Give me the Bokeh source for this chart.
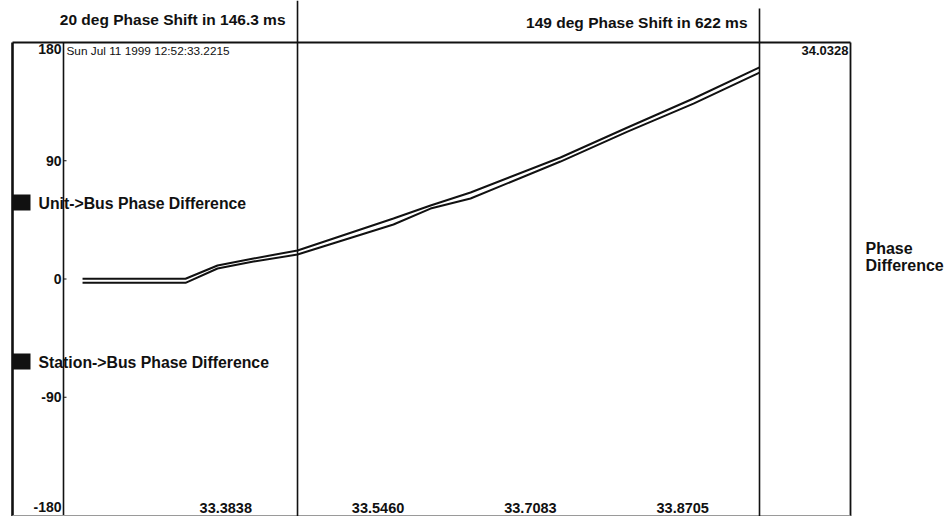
from bokeh.plotting import figure
from bokeh.models import Range1d
from bokeh.core.properties import value
from bokeh.embed import file_html
from bokeh.resources import INLINE

# ---- data -------------------------------------------------------------
START_STAMP = "Sun Jul 11 1999 12:52:33.2215"
T_START = 33.2215          # seconds at the start of the trace window
T_END = 34.0328            # seconds at the end of the trace window
Y_MIN, Y_MAX = -180, 180   # phase difference, degrees

Y_TICKS = [180, 90, 0, -90, -180]
X_TICKS = [33.3838, 33.5460, 33.7083, 33.8705]

CURSOR_TIMES = [33.4602, 33.9523]
CURSOR_TITLES = ["20 deg Phase Shift in 146.3 ms", "149 deg Phase Shift in 622 ms"]

time_s = [33.2312, 33.3409, 33.3750, 33.4133, 33.4602, 33.5624,
          33.6019, 33.6445, 33.7403, 33.8117, 33.8820, 33.9523]
unit_bus = [0.2, 0.2, 10.3, 15.6, 21.7, 46.0,
            55.9, 65.8, 92.5, 115.3, 137.4, 161.0]
station_bus = [-2.9, -2.9, 8.0, 13.3, 18.6, 41.5,
               53.6, 61.3, 89.4, 112.2, 133.5, 157.1]

SERIES_NAMES = ["Unit->Bus Phase Difference", "Station->Bus Phase Difference"]
AXIS_NAME = ["Phase", "Difference"]

# ---- page geometry (pixels) ------------------------------------------
W, H = 945, 516
TOP, BOTTOM = 42, 515          # y = 180 and y = -180
AXIS_PX, FRAME_R_PX = 63, 850  # left axis line and right frame line
T_MID_PX, PX_PER_S = 453.75, 938.8
T_MID = (X_TICKS[0] + X_TICKS[-1]) / 2
sy = (BOTTOM - TOP) / (Y_MAX - Y_MIN)


def X(px):
    return T_MID + (px - T_MID_PX) / PX_PER_S


def Y(py):
    return Y_MAX - (py - TOP) / sy


FONT = value("Liberation Sans")
INK = "#111111"

p = figure(width=W, height=H, x_range=Range1d(X(0), X(W)), y_range=Range1d(Y(H), Y(0)),
           x_axis_location=None, y_axis_location=None, toolbar_location=None,
           output_backend="svg", min_border=0)
p.grid.visible = False
p.outline_line_color = None
p.background_fill_color = "white"
p.border_fill_color = "white"

# ---- outer frame and trace window ------------------------------------
p.segment(x0=[X(12), X(12), X(FRAME_R_PX), X(AXIS_PX), X(12)],
          y0=[Y(H), Y_MAX, Y_MAX, Y_MAX, Y(BOTTOM)],
          x1=[X(12), X(FRAME_R_PX), X(FRAME_R_PX), X(AXIS_PX), X(FRAME_R_PX)],
          y1=[Y_MAX, Y_MAX, Y(H), Y(H), Y(BOTTOM)],
          line_color=[INK, INK, INK, INK, "#9a9a9a"],
          line_width=[2.6, 2.0, 1.8, 1.6, 1.0])

# y ticks pointing into the trace window
mid_ticks = [t for t in Y_TICKS if Y_MIN < t < Y_MAX]
p.segment(x0=[X(AXIS_PX)] * len(mid_ticks), y0=mid_ticks,
          x1=[X(AXIS_PX + 3)] * len(mid_ticks), y1=mid_ticks, line_color=INK, line_width=1.2)

# y tick labels
for t in Y_TICKS:
    if t == Y_MAX:
        yy, base = Y(TOP + 1), "top"
    elif t == Y_MIN:
        yy, base = Y(BOTTOM - 4), "bottom"
    else:
        yy, base = t, "middle"
    p.text(x=[X(AXIS_PX - 2)], y=[yy], text=[str(t)], text_font=FONT, text_font_style="bold",
           text_font_size="14px", text_align="right", text_baseline=base, text_color=INK)

# x tick labels along the bottom
p.text(x=X_TICKS, y=[Y(BOTTOM - 3)] * len(X_TICKS), text=["%.4f" % t for t in X_TICKS],
       text_font=FONT, text_font_style="bold", text_font_size="14.5px",
       text_align="center", text_baseline="bottom", text_color=INK)

# end time of the window, top right
p.text(x=[X(FRAME_R_PX - 2)], y=[Y(TOP + 3)], text=["%.4f" % T_END], text_font=FONT,
       text_font_style="bold", text_font_size="13px", text_align="right",
       text_baseline="top", text_color=INK)

# start time stamp, top left of the trace window
p.text(x=[X(AXIS_PX + 3)], y=[Y(TOP + 1)], text=[START_STAMP], text_font=FONT,
       text_font_size="11.8px", text_align="left", text_baseline="top", text_color=INK)

# ---- cursors -----------------------------------------------------------
p.segment(x0=CURSOR_TIMES, y0=[Y(0), Y(8)], x1=CURSOR_TIMES, y1=[Y(H), Y(H)],
          line_color=INK, line_width=1.6)
p.text(x=[c - 12 / PX_PER_S for c in CURSOR_TIMES], y=[Y(19), Y(22)], text=CURSOR_TITLES,
       text_font=FONT, text_font_style="bold", text_font_size="15.5px",
       text_align="right", text_baseline="middle", text_color=INK)

# ---- traces ------------------------------------------------------------
p.line(time_s, unit_bus, line_color=INK, line_width=2.0)
p.line(time_s, station_bus, line_color=INK, line_width=2.0)

# ---- legend keys -------------------------------------------------------
for name, cy in zip(SERIES_NAMES, [202, 361]):
    p.quad(left=[X(12)], right=[X(30)], top=[Y(cy - 8)], bottom=[Y(cy + 8)],
           fill_color=INK, line_color=None)
    p.text(x=[X(38)], y=[Y(cy + 1)], text=[name], text_font=FONT, text_font_style="bold",
           text_font_size="15.8px", text_align="left", text_baseline="middle",
           text_color=INK)

# axis name on the right
p.text(x=[X(865)] * 2, y=[Y(248), Y(265)], text=AXIS_NAME, text_font=FONT,
       text_font_style="bold", text_font_size="16px", text_align="left",
       text_baseline="middle", text_color=INK)

open("out.html", "w").write(file_html(p, INLINE))
